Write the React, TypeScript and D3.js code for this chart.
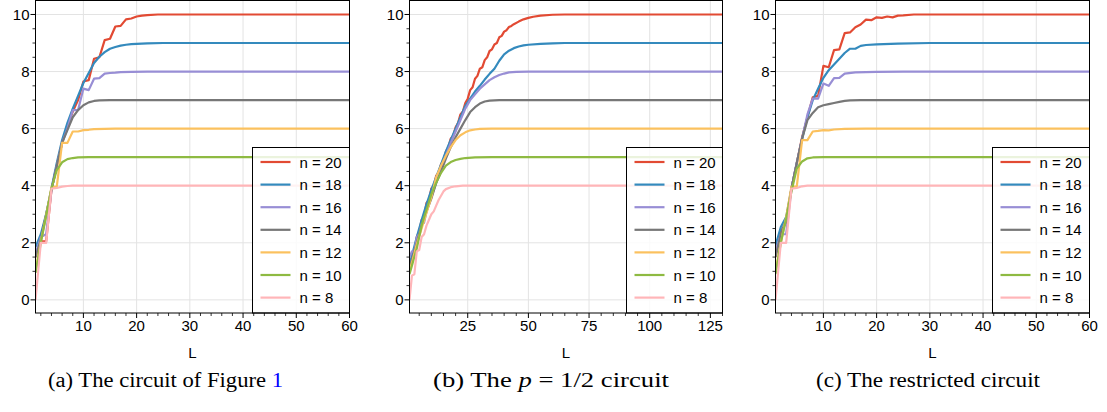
import React from "react";
import * as d3 from "d3";

// ---------- data ----------
const NS = [20, 18, 16, 14, 12, 10, 8];
const COLORS = ["#E24A33", "#348ABD", "#988ED5", "#777777", "#FBC15E", "#8EBA42", "#FFB5B8"];

const Y_TICKS = [0, 2, 4, 6, 8, 10];
const X_TICKS_A = [10, 20, 30, 40, 50, 60];
const X_TICKS_B = [25, 50, 75, 100, 125];
const X_TICKS_C = [10, 20, 30, 40, 50, 60];

const CAPTIONS = ["(a) The circuit of Figure ", "(b) The ", "(c) The restricted circuit"];

// Panel (a): the circuit of Figure 1, [L, value]
const A20 = [[1,1.5],[2,2.05],[3,2.05],[4,3.85],[5,4.7],[6,5.5],[7,6.1],[8,6.6],[9,7.0],[10,7.65],[11,7.7],[12,8.45],[13,8.5],[14,9.1],[15,9.15],[16,9.58],[17,9.6],[18,9.83],[19,9.86],[20,9.93],[21,9.96],[22,9.98],[24,10],[60,10]];
const A18 = [[1,1.85],[2,2.3],[3,3.0],[4,3.9],[5,4.8],[6,5.6],[7,6.2],[8,6.7],[9,7.15],[10,7.6],[11,7.95],[12,8.3],[13,8.52],[14,8.68],[15,8.8],[16,8.86],[17,8.91],[18,8.94],[19,8.96],[20,8.97],[22,8.99],[25,9],[60,9]];
const A16 = [[1,1.6],[2,2.2],[3,2.3],[4,3.85],[5,4.7],[6,5.5],[7,6.0],[8,6.65],[9,6.65],[10,7.4],[11,7.35],[12,7.75],[13,7.77],[14,7.93],[15,7.95],[16,7.96],[17,7.98],[19,7.99],[22,8],[60,8]];
const A14 = [[1,1.5],[2,2.1],[3,3.0],[4,3.85],[5,4.7],[6,5.5],[7,5.95],[8,6.4],[9,6.65],[10,6.82],[11,6.92],[12,6.97],[13,6.99],[15,7],[60,7]];
const A12 = [[1,1.0],[2,2.05],[3,2.95],[4,3.95],[5,3.97],[6,5.5],[7,5.5],[8,5.9],[9,5.9],[10,5.95],[11,5.96],[12,5.98],[14,5.99],[16,6],[60,6]];
const A10 = [[1,0.95],[2,2.0],[3,2.95],[4,3.9],[5,4.55],[6,4.82],[7,4.93],[8,4.97],[9,4.99],[11,5],[60,5]];
const A8 = [[1,0],[2,2.0],[3,2.0],[4,3.9],[5,3.92],[6,3.97],[7,3.99],[8,4],[60,4]];

// Panel (b): the p = 1/2 circuit
const B20 = [[1,1.0],[2,1.5],[3,1.7],[4,2.2],[5,2.4],[6,2.8],[7,2.9],[8,3.4],[9,3.5],[10,3.9],[11,4.0],[12,4.35],[13,4.45],[14,4.75],[15,4.9],[16,5.2],[17,5.35],[18,5.65],[19,5.75],[20,6.05],[21,6.2],[22,6.5],[23,6.6],[24,6.9],[25,7.05],[26,7.35],[27,7.45],[28,7.75],[29,7.85],[30,8.1],[31,8.15],[32,8.4],[33,8.5],[34,8.72],[35,8.78],[36,8.95],[37,9.0],[38,9.2],[39,9.25],[40,9.4],[41,9.45],[42,9.56],[43,9.6],[44,9.66],[46,9.75],[48,9.83],[50,9.88],[52,9.92],[55,9.96],[60,9.99],[65,10],[130,10]];
const B18 = [[1,1.2],[2,1.55],[4,2.2],[6,2.8],[8,3.35],[10,3.85],[12,4.3],[14,4.75],[16,5.2],[18,5.6],[20,6.0],[22,6.4],[24,6.8],[26,7.05],[28,7.3],[30,7.5],[32,7.72],[34,7.92],[36,8.1],[38,8.38],[40,8.6],[42,8.73],[44,8.82],[46,8.88],[48,8.92],[50,8.94],[55,8.97],[60,8.99],[65,9],[130,9]];
const B16 = [[1,1.5],[2,1.7],[3,1.7],[4,2.2],[5,2.3],[6,2.65],[7,2.7],[8,3.1],[10,3.6],[12,4.1],[14,4.6],[16,5.05],[18,5.5],[20,5.9],[22,6.3],[24,6.7],[26,7.0],[28,7.2],[30,7.4],[32,7.55],[34,7.7],[36,7.8],[38,7.88],[40,7.93],[42,7.97],[45,7.99],[50,8],[130,8]];
const B14 = [[1,1.1],[2,1.4],[4,2.0],[6,2.6],[8,3.1],[10,3.55],[12,4.1],[14,4.5],[16,4.95],[18,5.35],[20,5.7],[22,6.0],[24,6.3],[26,6.58],[28,6.75],[30,6.88],[32,6.95],[34,6.98],[38,7],[130,7]];
const B12 = [[1,1.0],[2,1.3],[4,1.95],[6,2.5],[8,3.05],[10,3.6],[12,4.3],[14,4.7],[16,5.05],[18,5.35],[20,5.6],[22,5.77],[24,5.87],[26,5.94],[28,5.97],[30,5.99],[35,6],[130,6]];
const B10 = [[1,0.9],[2,1.2],[3,1.5],[4,1.8],[5,2.2],[6,2.6],[7,2.9],[8,3.15],[10,3.7],[12,4.1],[14,4.45],[16,4.7],[18,4.83],[20,4.9],[22,4.94],[24,4.97],[28,4.99],[35,5],[130,5]];
const B8 = [[1,0],[2,0.85],[3,0.9],[4,1.7],[5,1.75],[6,2.2],[7,2.3],[8,2.6],[9,2.8],[10,3.0],[11,3.1],[12,3.3],[13,3.5],[14,3.65],[15,3.8],[16,3.88],[18,3.95],[20,3.98],[23,4],[130,4]];

// Panel (c): the restricted circuit
const C20 = [[1,1.5],[2,2.4],[3,2.7],[4,3.9],[5,4.8],[6,5.7],[7,6.4],[8,7.1],[9,7.15],[10,8.2],[11,8.15],[12,8.75],[13,8.78],[14,9.35],[15,9.37],[16,9.55],[17,9.65],[18,9.82],[19,9.8],[20,9.9],[21,9.88],[22,9.93],[23,9.9],[24,9.96],[25,9.97],[27,10],[60,10]];
const C18 = [[1,1.9],[2,2.55],[3,2.9],[4,3.9],[5,4.8],[6,5.65],[7,6.4],[8,7.0],[9,7.4],[10,7.78],[11,8.05],[12,8.25],[13,8.45],[14,8.65],[15,8.8],[16,8.8],[17,8.9],[18,8.93],[20,8.95],[24,8.98],[30,9],[60,9]];
const C16 = [[1,1.7],[2,2.3],[3,2.3],[4,3.9],[5,4.8],[6,5.65],[7,6.5],[8,7.05],[9,7.05],[10,7.58],[11,7.5],[12,7.77],[13,7.78],[14,7.93],[16,7.97],[20,7.99],[25,8],[60,8]];
const C14 = [[1,1.5],[2,2.3],[3,2.8],[4,3.9],[5,4.8],[6,5.65],[7,6.3],[8,6.55],[9,6.75],[10,6.82],[11,6.86],[12,6.9],[13,6.94],[14,6.97],[15,6.99],[17,7],[60,7]];
const C12 = [[1,1.0],[2,2.0],[3,2.9],[4,3.97],[5,3.97],[6,5.6],[7,5.6],[8,5.9],[9,5.92],[10,5.95],[11,5.94],[12,5.97],[14,5.99],[18,6],[60,6]];
const C10 = [[1,0.9],[2,2.0],[3,2.85],[4,3.8],[5,4.6],[6,4.85],[7,4.96],[8,4.99],[10,5],[60,5]];
const C8 = [[1,0],[2,2.0],[3,2.0],[4,3.9],[5,3.92],[6,3.98],[7,4],[60,4]];

// ---------- layout ----------
const W = 1107, H = 412;
const PLOT_TOP = 0.5, PLOT_BOTTOM = 313;
const Y_DOMAIN = [-0.46, 10.49];
const FONT = "'Liberation Sans', Arial, Helvetica, sans-serif";
const SERIF = "'Liberation Serif', 'Times New Roman', serif";

type Panel = {
  left: number; right: number; domain: [number, number]; ticks: number[]; minorStep: number;
  series: number[][][]; legendLeft: number; caption: number; captionX: number; captionW: number;
};

const PANELS: Panel[] = [
  { left: 35.5, right: 349.5, domain: [1, 60], ticks: X_TICKS_A, minorStep: 2, series: [A20, A18, A16, A14, A12, A10, A8], legendLeft: 252.5, caption: 0, captionX: 165.5, captionW: 235 },
  { left: 409.5, right: 722.5, domain: [1, 130], ticks: X_TICKS_B, minorStep: 5, series: [B20, B18, B16, B14, B12, B10, B8], legendLeft: 626.5, caption: 1, captionX: 551, captionW: 236 },
  { left: 775.5, right: 1089.5, domain: [1, 60], ticks: X_TICKS_C, minorStep: 2, series: [C20, C18, C16, C14, C12, C10, C8], legendLeft: 992.5, caption: 2, captionX: 928, captionW: 224 },
];

function PanelView({ p, idx }: { p: Panel; idx: number }) {
  const x = d3.scaleLinear().domain(p.domain).range([p.left, p.right]);
  const y = d3.scaleLinear().domain(Y_DOMAIN).range([PLOT_BOTTOM, PLOT_TOP]);
  const line = d3.line<number[]>().x((d) => x(d[0])).y((d) => y(d[1]));
  const minorX = d3.range(p.minorStep, p.domain[1] + 0.001, p.minorStep).filter((v) => !p.ticks.includes(v) && v > p.domain[0]);
  const minorY = d3.range(0.5, 10.01, 0.5).filter((v) => !Y_TICKS.includes(v));
  const clipId = `clip${idx}`;
  const legTop = 147.5;
  const legW = p.right - p.legendLeft;
  const rowH = 22.6;
  return (
    <g>
      <defs>
        <clipPath id={clipId}>
          <rect x={p.left} y={PLOT_TOP} width={p.right - p.left} height={PLOT_BOTTOM - PLOT_TOP} />
        </clipPath>
      </defs>
      {/* grid */}
      {Y_TICKS.map((t) => (
        <line key={"gy" + t} x1={p.left} x2={p.right} y1={y(t)} y2={y(t)} stroke="#e3e3e3" strokeWidth={1} />
      ))}
      {p.ticks.map((t) => (
        <line key={"gx" + t} x1={x(t)} x2={x(t)} y1={PLOT_TOP} y2={PLOT_BOTTOM} stroke="#e3e3e3" strokeWidth={1} />
      ))}
      {/* series */}
      <g clipPath={`url(#${clipId})`}>
        {p.series.map((s, i) => (
          <path key={i} d={line(s) || ""} fill="none" stroke={COLORS[i]} strokeWidth={2.2} strokeLinejoin="round" />
        ))}
      </g>
      {/* legend */}
      <rect x={p.legendLeft} y={legTop} width={legW} height={PLOT_BOTTOM - legTop} fill="#ffffff" fillOpacity={0.82} stroke="#000" strokeWidth={1} />
      {NS.map((n, i) => {
        const cy = legTop + 14.5 + i * rowH;
        return (
          <g key={"lg" + n}>
            <line x1={p.legendLeft + 8} x2={p.legendLeft + 38} y1={cy} y2={cy} stroke={COLORS[i]} strokeWidth={2.2} />
            <text x={p.legendLeft + 47} y={cy + 5.5} fontFamily={FONT} fontSize={15} fill="#000">{`n = ${n}`}</text>
          </g>
        );
      })}
      {/* frame */}
      <rect x={p.left} y={PLOT_TOP} width={p.right - p.left} height={PLOT_BOTTOM - PLOT_TOP} fill="none" stroke="#000" strokeWidth={1} />
      {/* y ticks */}
      {Y_TICKS.map((t) => (
        <g key={"yt" + t}>
          <line x1={p.left - 5} x2={p.left} y1={y(t)} y2={y(t)} stroke="#000" strokeWidth={1} />
          <text x={p.left - 6} y={y(t) + 5.5} textAnchor="end" fontFamily={FONT} fontSize={15} fill="#000">{t}</text>
        </g>
      ))}
      {minorY.map((t) => (
        <line key={"ym" + t} x1={p.left - 3} x2={p.left} y1={y(t)} y2={y(t)} stroke="#000" strokeWidth={0.8} />
      ))}
      {/* x ticks */}
      {p.ticks.map((t) => (
        <g key={"xt" + t}>
          <line x1={x(t)} x2={x(t)} y1={PLOT_BOTTOM} y2={PLOT_BOTTOM + 5} stroke="#000" strokeWidth={1} />
          <text x={x(t)} y={PLOT_BOTTOM + 17.5} textAnchor="middle" fontFamily={FONT} fontSize={15} fill="#000">{t}</text>
        </g>
      ))}
      {minorX.map((t) => (
        <line key={"xm" + t} x1={x(t)} x2={x(t)} y1={PLOT_BOTTOM} y2={PLOT_BOTTOM + 3} stroke="#000" strokeWidth={0.8} />
      ))}
      <text x={(p.left + p.right) / 2} y={358} textAnchor="middle" fontFamily={FONT} fontSize={15} fill="#000">L</text>
      {/* caption */}
      <text x={p.captionX - p.captionW / 2} y={387} fontFamily={SERIF} fontSize={20} fill="#000"
        textLength={p.captionW} lengthAdjust="spacingAndGlyphs">
        {p.caption === 0 && (<>{CAPTIONS[0]}<tspan fill="#0000ff">1</tspan></>)}
        {p.caption === 1 && (<>{CAPTIONS[1]}<tspan fontStyle="italic">p</tspan>{" = 1/2 circuit"}</>)}
        {p.caption === 2 && CAPTIONS[2]}
      </text>
    </g>
  );
}

export default function App() {
  return (
    <svg width={W} height={H} style={{ position: "absolute", left: 0, top: 0, background: "#fff" }}>
      <rect width={W} height={H} fill="#fff" />
      {PANELS.map((p, i) => (
        <PanelView key={i} p={p} idx={i} />
      ))}
    </svg>
  );
}
